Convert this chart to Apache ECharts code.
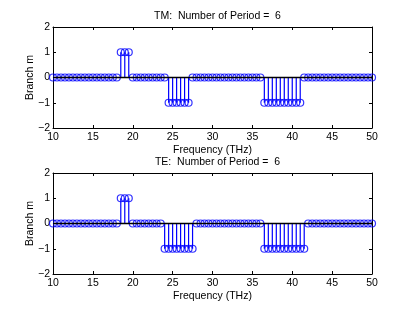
<!DOCTYPE html>
<html>
<head>
<meta charset="utf-8">
<script src="https://cdn.jsdelivr.net/npm/echarts@6/dist/echarts.min.js"></script>
<style>html,body{margin:0;padding:0;background:#fff;}#c{width:411px;height:309px;}</style>
</head>
<body>
<div id="c"></div>
<script>
const freq = [10,10.5,11,11.5,12,12.5,13,13.5,14,14.5,15,15.5,16,16.5,17,17.5,18,18.5,19,19.5,
  20,20.5,21,21.5,22,22.5,23,23.5,24,24.5,25,25.5,26,26.5,27,27.5,28,28.5,29,29.5,
  30,30.5,31,31.5,32,32.5,33,33.5,34,34.5,35,35.5,36,36.5,37,37.5,38,38.5,39,39.5,
  40,40.5,41,41.5,42,42.5,43,43.5,44,44.5,45,45.5,46,46.5,47,47.5,48,48.5,49,49.5,50];
const tmBranch = [0,0,0,0,0,0,0,0,0,0,0,0,0,0,0,0,0,1,1,1,
  0,0,0,0,0,0,0,0,0,-1,-1,-1,-1,-1,-1,0,0,0,0,0,
  0,0,0,0,0,0,0,0,0,0,0,0,0,-1,-1,-1,-1,-1,-1,-1,
  -1,-1,-1,0,0,0,0,0,0,0,0,0,0,0,0,0,0,0,0,0,0];
const teBranch = [0,0,0,0,0,0,0,0,0,0,0,0,0,0,0,0,0,1,1,1,
  0,0,0,0,0,0,0,0,-1,-1,-1,-1,-1,-1,-1,-1,0,0,0,0,
  0,0,0,0,0,0,0,0,0,0,0,0,0,-1,-1,-1,-1,-1,-1,-1,
  -1,-1,-1,-1,0,0,0,0,0,0,0,0,0,0,0,0,0,0,0,0,0];
const titles = ['TM:  Number of Period =  6', 'TE:  Number of Period =  6'];
const xLabel = 'Frequency (THz)';
const yLabel = 'Branch m';

const FONT = 'Liberation Sans';
const FS = 10.5;
const BLUE = '#0000ff';
const gridTops = [27, 173];
const H = 101, L = 53, W = 319;

function fmtY(v){ return v < 0 ? '\u2212' + Math.abs(v) : String(v); }

const option = {
  animation: false,
  textStyle: {fontFamily: FONT, color: '#000'},
  title: titles.map((t, i) => ({
    text: t, left: L + W/2, top: gridTops[i] - 21, textAlign: 'center',
    textStyle: {fontFamily: FONT, fontSize: FS, fontWeight: 'normal', color: '#000'}
  })),
  grid: gridTops.map(t => ({left: L, top: t, width: W, height: H})),
  xAxis: [],
  yAxis: [],
  series: []
};

gridTops.forEach((t, i) => {
  const axLine = {show: true, onZero: false, lineStyle: {color: '#000', width: 1}};
  const tick = {show: true, inside: true, length: 3, lineStyle: {color: '#000'}};
  option.xAxis.push({
    type: 'value', gridIndex: i, min: 10, max: 50, interval: 5, position: 'bottom',
    axisLine: axLine, axisTick: tick,
    axisLabel: {fontFamily: FONT, fontSize: FS, color: '#000', margin: 4},
    splitLine: {show: false},
    name: xLabel, nameLocation: 'middle', nameGap: 16.5, nameMoveOverlap: false,
    nameTextStyle: {fontFamily: FONT, fontSize: FS, color: '#000'}
  });
  option.xAxis.push({
    type: 'value', gridIndex: i, min: 10, max: 50, interval: 5, position: 'top',
    axisLine: axLine, axisTick: tick,
    axisLabel: {show: false}, splitLine: {show: false}
  });
  option.yAxis.push({
    type: 'value', gridIndex: i, min: -2, max: 2, interval: 1, position: 'left',
    axisLine: axLine, axisTick: tick,
    axisLabel: {fontFamily: FONT, fontSize: FS, color: '#000', margin: 3, formatter: fmtY},
    splitLine: {show: false},
    name: yLabel, nameLocation: 'middle', nameGap: 17, nameRotate: 90, nameMoveOverlap: false,
    nameTextStyle: {fontFamily: FONT, fontSize: FS, color: '#000'}
  });
  option.yAxis.push({
    type: 'value', gridIndex: i, min: -2, max: 2, interval: 1, position: 'right',
    axisLine: axLine, axisTick: tick,
    axisLabel: {show: false}, splitLine: {show: false}
  });
  const vals = i === 0 ? tmBranch : teBranch;
  const data = freq.map((f, k) => [f, vals[k]]);
  option.series.push({
    type: 'custom', xAxisIndex: 2*i, yAxisIndex: 2*i, data: data, z: 2,
    renderItem: function(params, api){
      const a = api.coord([api.value(0), 0]);
      const b = api.coord([api.value(0), api.value(1)]);
      return {type: 'line', shape: {x1: a[0], y1: a[1], x2: b[0], y2: b[1]},
        style: {stroke: BLUE, lineWidth: 1.2}};
    }
  });
  option.series.push({
    type: 'scatter', xAxisIndex: 2*i, yAxisIndex: 2*i, data: data, z: 3,
    symbol: 'circle', symbolSize: 7,
    itemStyle: {color: 'rgba(0,0,0,0)', borderColor: BLUE, borderWidth: 1.2}
  });
  option.series.push({
    type: 'line', xAxisIndex: 2*i, yAxisIndex: 2*i, data: [[10, 0], [50, 0]], z: 4,
    symbol: 'none', lineStyle: {color: '#000', width: 1.5}
  });
});

const chart = echarts.init(document.getElementById('c'), null, {renderer: 'canvas'});
chart.setOption(option);
</script>
</body>
</html>
